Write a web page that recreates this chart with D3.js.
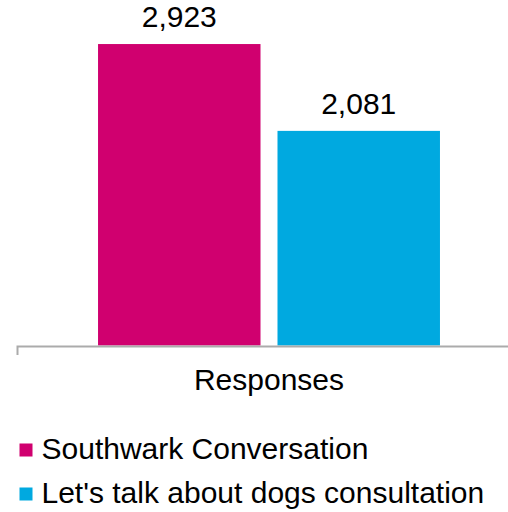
<!DOCTYPE html>
<html>
<head>
<meta charset="utf-8">
<script src="https://cdn.jsdelivr.net/npm/d3@7"></script>
<style>
  html, body { margin: 0; padding: 0; background: #fff; }
  svg { display: block; font-family: "Liberation Sans", Arial, sans-serif; }
</style>
</head>
<body>
<svg id="chart" width="508" height="512"></svg>
<script>
// Response counts by consultation
const categories = ["Responses"];
const seriesNames = ["Southwark Conversation", "Let's talk about dogs consultation"];
const seriesValues = [2923, 2081];
const seriesColors = ["#D0006F", "#00A9E0"];

const FONT_SIZE = 30;
const svg = d3.select("#chart");
const fmt = d3.format(",");

const x0 = d3.scaleBand().domain(categories).range([17, 521])
  .paddingInner(0).paddingOuter(0.237);
const x1 = d3.scaleBand().domain(seriesNames).range([0, x0.bandwidth()])
  .paddingInner(0.0947).paddingOuter(0);
const y = d3.scaleLinear().domain([0, 3000]).range([345.5, 36.1]);

// Bars
const group = svg.append("g").selectAll("g").data(categories).join("g")
  .attr("transform", d => `translate(${x0(d)},0)`);

const rows = seriesNames.map((name, i) => ({ name, value: seriesValues[i], color: seriesColors[i] }));

group.selectAll("rect").data(rows).join("rect")
  .attr("x", d => x1(d.name))
  .attr("y", d => y(d.value))
  .attr("width", x1.bandwidth())
  .attr("height", d => y(0) - y(d.value))
  .attr("fill", d => d.color);

// Value labels
group.selectAll("text.val").data(rows).join("text")
  .attr("class", "val")
  .attr("x", d => x1(d.name) + x1.bandwidth() / 2)
  .attr("y", d => y(d.value) - 17)
  .attr("text-anchor", "middle")
  .attr("font-size", FONT_SIZE)
  .attr("fill", "#000")
  .text(d => fmt(d.value));

// Category axis
const axis = svg.append("g")
  .attr("transform", `translate(0,${346})`)
  .call(d3.axisBottom(x0).tickSizeInner(0).tickSizeOuter(9).tickPadding(23));
axis.select(".domain").attr("stroke", "#ababab").attr("stroke-width", 2);
axis.selectAll(".tick text")
  .attr("font-size", FONT_SIZE)
  .attr("fill", "#000")
  .attr("font-family", "Liberation Sans, Arial, sans-serif");

// Legend
const legend = svg.append("g").selectAll("g").data(rows).join("g")
  .attr("transform", (d, i) => `translate(19.5,${443.5 + i * 44})`);
legend.append("rect")
  .attr("width", 13).attr("height", 13)
  .attr("fill", d => d.color);
legend.append("text")
  .attr("x", 22)
  .attr("y", 15.5)
  .attr("font-size", FONT_SIZE)
  .attr("fill", "#000")
  .text(d => d.name);
</script>
</body>
</html>
